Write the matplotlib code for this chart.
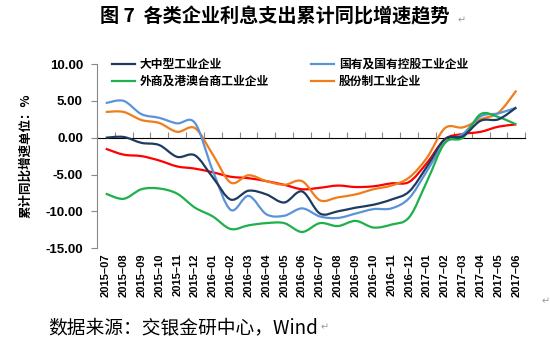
import numpy as np
import matplotlib
matplotlib.use('Agg')
import matplotlib.pyplot as plt
from matplotlib.path import Path
from matplotlib.patches import PathPatch
from matplotlib.lines import Line2D

plt.rcParams['font.family'] = ['Noto Sans CJK SC', 'DejaVu Sans']

#Data (cumulative yoy growth of interest expense, %)
months = ['2015-07', '2015-08', '2015-09', '2015-10', '2015-11', '2015-12',
          '2016-01', '2016-02', '2016-03', '2016-04', '2016-05', '2016-06',
          '2016-07', '2016-08', '2016-09', '2016-10', '2016-11', '2016-12',
          '2017-01', '2017-02', '2017-03', '2017-04', '2017-05', '2017-06']

large_medium = [0.0, 0.1, -0.7, -1.0, -2.6, -2.4, -5.4, -8.4, -7.2, -7.7, -8.8, -7.3,
                -10.3, -10.0, -9.5, -9.1, -8.4, -7.3, -3.9, -0.2, 0.2, 2.3, 2.5, 4.1]
state_owned = [4.7, 5.0, 3.2, 2.7, 1.95, 2.0, -4.5, -9.8, -7.9, -10.4, -10.6, -9.6,
               -10.7, -10.9, -10.3, -9.7, -9.6, -8.2, -4.5, -0.7, 0.5, 2.9, 3.3, 4.1]
foreign = [-7.6, -8.3, -7.0, -6.9, -7.6, -9.5, -10.7, -12.4, -11.9, -11.6, -11.6, -12.8,
           -11.6, -12.0, -11.3, -12.2, -11.8, -10.8, -5.9, -0.7, 0.0, 3.2, 2.8, 1.8]
shareholding = [3.5, 3.5, 2.4, 2.0, 0.8, 1.3, -2.3, -6.1, -5.1, -5.9, -6.4, -5.9,
                -8.5, -8.1, -7.7, -7.0, -6.5, -5.4, -2.7, 1.3, 1.4, 2.5, 3.4, 6.4]
other = [-1.5, -2.3, -2.5, -3.1, -3.9, -4.2, -4.7, -5.3, -5.5, -5.9, -6.4, -7.0,
         -6.8, -6.5, -6.7, -6.6, -6.2, -6.0, -3.4, -0.2, 0.5, 0.8, 1.5, 1.8]

series = [('大中型工业企业', large_medium, '#1F3A60'),
          ('外商及港澳台商工业企业', foreign, '#1DB04B'),
          ('国有及国有控股工业企业', state_owned, '#5B93D8'),
          ('股份制工业企业', shareholding, '#F07C1A'),
          (None, other, '#FF0000')]


def smooth_path(x, y):
    #Excel-like smoothed line: Catmull-Rom segments as cubic beziers
    p = np.column_stack([x, y]).astype(float)
    ext = np.vstack([p[0], p, p[-1]])
    verts = [p[0]]
    codes = [Path.MOVETO]
    for i in range(len(p) - 1):
        p0, p1, p2, p3 = ext[i], ext[i + 1], ext[i + 2], ext[i + 3]
        verts += [p1 + (p2 - p0) / 6, p2 - (p3 - p1) / 6, p2]
        codes += [Path.CURVE4] * 3
    return Path(verts, codes)


fig = plt.figure(figsize=(5.5, 3.54), dpi=100)
ax = fig.add_axes([0.176, 0.299, 0.779, 0.52])

x = np.arange(len(months))
handles = []
for name, vals, col in reversed(series):
    ax.add_patch(PathPatch(smooth_path(x, vals), facecolor='none', edgecolor=col, lw=1.6))
for name, vals, col in series:
    if name:
        handles.append(Line2D([], [], color=col, lw=1.6, label=name))

ax.set_xlim(-0.5, len(months) - 0.5)
ax.set_ylim(-15, 10)
ax.set_yticks([10, 5, 0, -5, -10, -15])
ax.set_yticklabels(['%.2f' % v for v in [10, 5, 0, -5, -10, -15]],
                   fontsize=9.5, fontweight='bold', family='Liberation Sans')
ax.set_xticks(x)
ax.set_xticklabels([m.replace('-', '–') for m in months], rotation=90,
                   fontsize=8, fontweight='bold', family='Liberation Sans')
ax.tick_params(axis='x', length=0, pad=4)
ax.tick_params(axis='y', length=4, color='#888888', pad=6)

for s in ['top', 'right', 'bottom']:
    ax.spines[s].set_visible(False)
ax.spines['left'].set_color('#888888')

#category axis crossing at zero, tick marks between categories
sec = ax.secondary_xaxis(0.6)
sec.set_xticks(np.arange(len(months) + 1) - 0.5)
sec.set_xticklabels([])
sec.tick_params(length=4, color='#888888', direction='out')
sec.spines['bottom'].set_color('#888888')

ax.set_ylabel('累计同比增速单位：%', fontsize=9, fontweight='bold', labelpad=9)

ax.legend(handles=handles, ncol=2, frameon=False, loc='upper left',
          bbox_to_anchor=(0.01, 1.09), prop={'size': 8.5, 'weight': 'bold'},
          handlelength=2.0, handletextpad=0.4, columnspacing=3.5, labelspacing=0.3)

fig.text(0.50, 0.952, '图 7  各类企业利息支出累计同比增速趋势', ha='center', va='center',
         fontsize=13.8, fontweight='bold')
fig.text(0.832, 0.944, '↵', fontsize=7, color='#999999', va='center', family='DejaVu Sans')
fig.text(0.087, 0.075, '数据来源：交银金研中心，Wind', fontsize=13.5, va='center')
fig.text(0.583, 0.075, '↵', fontsize=7, color='#999999', va='center', family='DejaVu Sans')
fig.text(0.985, 0.15, '↵', fontsize=7, color='#999999', va='center', family='DejaVu Sans')

fig.savefig('out.png', dpi=100)
